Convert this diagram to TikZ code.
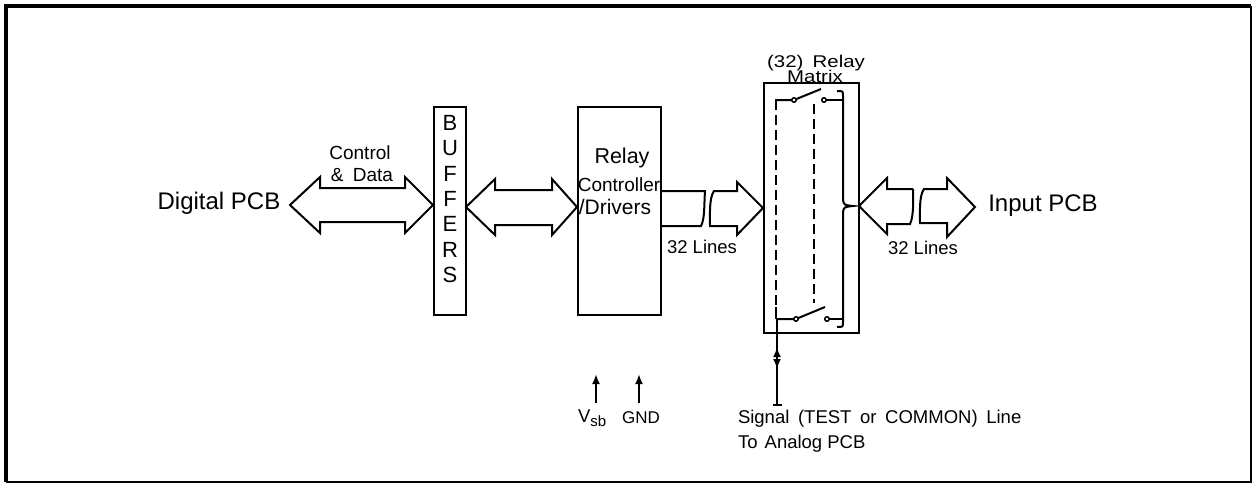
\documentclass[tikz,border=0pt]{standalone}
\usepackage{fontspec}
\setmainfont{Liberation Sans}
\usetikzlibrary{arrows.meta}
\begin{document}
\begin{tikzpicture}[x=1pt,y=-1pt,line width=2pt,line join=miter,
  box/.style={draw,line width=2pt,inner sep=0pt},
  txt/.style={inner sep=0pt,anchor=center},
  bigtxt/.style={txt,font=\fontsize{24}{28}\selectfont},
  midtxt/.style={txt,font=\fontsize{19}{22}\selectfont},
  smalltxt/.style={txt,font=\fontsize{18.5}{22}\selectfont},
  dot/.style={circle,draw,line width=1.5pt,inner sep=0pt,minimum size=4.5pt,fill=white},
  dsh/.style={dash pattern=on 10pt off 5pt,line width=2pt},
  sigarrow/.style={-{Latex[length=10pt,width=8pt]}}]
\useasboundingbox (0,0) rectangle (1254,483);
% frame
\draw[line width=4.5pt] (6,482) -- (6,6) -- (1251,6);
\draw[line width=1.5pt] (1251,6) -- (1251,482) -- (6,482);
% boxes
\node[box,minimum width=32pt,minimum height=208pt] (buf) at (449.5,211) {};
\node[box,minimum width=83pt,minimum height=208pt] (ctl) at (619.5,211) {};
\node[box,minimum width=95pt,minimum height=250pt] (mtx) at (811.5,208) {};
% buffer letters
\foreach \c [count=\i from 0] in {B,U,F,F,E,R,S}
  \node[txt,font=\fontsize{22}{24}\selectfont] (buf\i) at (450,123+25.3*\i) {\c};
% texts
\node[bigtxt] (dig) at (219,203) {Digital PCB};
\node[bigtxt] (inp) at (1043,206) {Input PCB};
\node[midtxt] (ctrl) at (360,153) {Control};
\node[midtxt] (data) at (362,175) {\&\hspace{4pt} Data};
\node[txt,font=\fontsize{21.5}{24}\selectfont] (rel) at (622,158) {Relay};
\node[txt,font=\fontsize{19}{22}\selectfont] (con) at (619,185) {Controller};
\node[txt,font=\fontsize{21}{24}\selectfont] (drv) at (615,207) {/Drivers};
\node[smalltxt] (l1) at (702,247) {32 Lines};
\node[smalltxt] (l2) at (923,248) {32 Lines};
\node[txt,font=\fontsize{17}{20}\selectfont,anchor=base] (mt1) at (816,67) {\scalebox{1.2}[1]{(32)\hspace{3pt} Relay}};
\node[txt,font=\fontsize{17}{20}\selectfont,anchor=base] (mt2) at (815,82) {\scalebox{1.2}[1]{Matrix}};
\node[smalltxt,anchor=west] (sig) at (737,419) {Signal\hspace{3.5pt} (TEST\hspace{3.5pt} or\hspace{3.5pt} COMMON)\hspace{3.5pt} Line};
\node[smalltxt,anchor=west] (ana) at (737,444) {To\hspace{2pt} Analog PCB};
\node[txt,font=\fontsize{18.5}{22}\selectfont,anchor=west] (vsb) at (577,418) {V\raisebox{-4pt}{\fontsize{15}{16}\selectfont sb}};
\node[txt,font=\fontsize{17}{20}\selectfont] (gnd) at (641,418) {GND};
% Vsb, GND arrows
\coordinate (v0) at (596,403); \coordinate (v1) at (596,374);
\coordinate (g0) at (639,403); \coordinate (g1) at (639,374);
\draw[sigarrow] (v0) -- (v1);
\draw[sigarrow] (g0) -- (g1);
% arrow 1: Digital PCB <-> buffers
\draw (290,205) -- (320,177) -- (320,188) -- (405,188) -- (405,177) -- (433,205)
  -- (405,233) -- (405,222) -- (320,222) -- (320,233) -- cycle;
% arrow 2: buffers <-> controller
\draw (466,207) -- (495,179) -- (495,190) -- (552,190) -- (552,179) -- (577,207)
  -- (552,235) -- (552,225) -- (495,225) -- (495,235) -- cycle;
% arrow 3: controller -> matrix (broken)
\draw (661,191) -- (705,191) .. controls (704,205) and (705,218) .. (701,226) -- (661,226);
\draw (714,191) .. controls (709,198) and (710,215) .. (710,226) -- (737,226) -- (737,235)
  -- (763,208) -- (737,182) -- (737,191) -- cycle;
% arrow 4: matrix <-> input (broken)
\draw (913,189) -- (887,189) -- (887,178) -- (859,206) -- (887,234) -- (887,224) -- (910,224)
  .. controls (914,216) and (913,200) .. (913,189);
\draw (924,189) .. controls (919,196) and (920,212) .. (920,223) -- (947,223) -- (947,237)
  -- (975,207) -- (947,178) -- (947,189) -- cycle;
% matrix internals
\draw[dsh] (776,100) -- (776,309);
\draw (776,307) -- (776,319);
\draw[dsh] (814,104) -- (814,303);
\draw (775,100) -- (794,100) -- (821,89);
\draw (777,319) -- (796,319) -- (825,307);
\draw (824,100) -- (842,100);
\draw (827,319) -- (842,319);
\node[dot] (s1) at (794,100) {};
\node[dot] (s2) at (824,100) {};
\node[dot] (s3) at (796,319) {};
\node[dot] (s4) at (827,319) {};
% brace
\draw (837,91) .. controls (843,91) .. (843,96) -- (843,200) .. controls (844,205) .. (853,206)
  .. controls (844,207) .. (843,212) -- (843,322) .. controls (843,327) .. (837,327);
% signal line
\coordinate (sb) at (777,405);
\draw (777,319) -- (sb);
\draw[sigarrow] (777,361) -- (777,347);
\draw[sigarrow] (777,355) -- (777,369);
\draw (773,405) -- (782,405);
\end{tikzpicture}
\end{document}
